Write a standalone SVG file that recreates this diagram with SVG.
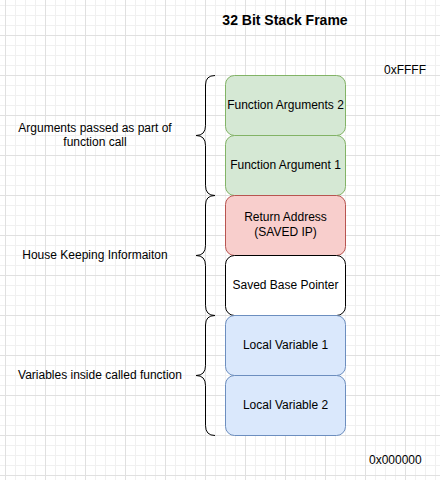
<svg xmlns="http://www.w3.org/2000/svg" width="440" height="480" viewBox="0 0 440 480">
  <defs>
    <pattern id="minor" patternUnits="userSpaceOnUse" x="5" y="5" width="10" height="10">
      <rect x="0" y="0" width="1" height="10" fill="#f0f0f0"/>
      <rect x="0" y="0" width="10" height="1" fill="#f0f0f0"/>
    </pattern>
    <pattern id="major" patternUnits="userSpaceOnUse" x="5" y="-5" width="40" height="40">
      <rect x="0" y="0" width="1" height="40" fill="#e0e0e0"/>
      <rect x="0" y="0" width="40" height="1" fill="#e0e0e0"/>
    </pattern>
    <style>
      text { font-family: "Liberation Sans", Arial, Helvetica, sans-serif; font-size: 12px; fill: #000000; }
      .c { text-anchor: middle; }
      .title { font-size: 14px; font-weight: bold; }
      .box { stroke-width: 1; }
      .green { fill: #d5e8d4; stroke: #82b366; }
      .red { fill: #f8cecc; stroke: #b85450; }
      .white { fill: #ffffff; stroke: #000000; }
      .blue { fill: #dae8fc; stroke: #6c8ebf; }
      .brace { fill: none; stroke: #000000; stroke-width: 1; }
    </style>
  </defs>
  <rect width="440" height="480" fill="#ffffff"/>
  <rect width="440" height="480" fill="url(#minor)"/>
  <rect width="440" height="480" fill="url(#major)"/>

  <g id="title"><text class="c title" x="285" y="25">32 Bit Stack Frame</text></g>
  <g id="addr-high"><text x="384" y="74">0xFFFF</text></g>
  <g id="addr-low"><text x="369" y="464">0x000000</text></g>

  <g id="func-arg-2">
    <rect class="box green" x="225.5" y="75.5" width="120" height="60" rx="9"/>
    <text class="c" x="285.5" y="109">Function Arguments 2</text>
  </g>
  <g id="func-arg-1">
    <rect class="box green" x="225.5" y="135.5" width="120" height="60" rx="9"/>
    <text class="c" x="285.5" y="169">Function Argument 1</text>
  </g>
  <g id="return-address">
    <rect class="box red" x="225.5" y="195.5" width="120" height="60" rx="9"/>
    <text class="c" x="285.5" y="221">Return Address</text>
    <text class="c" x="285.5" y="236">(SAVED IP)</text>
  </g>
  <g id="saved-base-pointer">
    <rect class="box white" x="225.5" y="255.5" width="120" height="60" rx="9"/>
    <text class="c" x="285.5" y="289">Saved Base Pointer</text>
  </g>
  <g id="local-var-1">
    <rect class="box blue" x="225.5" y="315.5" width="120" height="60" rx="9"/>
    <text class="c" x="285.5" y="349">Local Variable 1</text>
  </g>
  <g id="local-var-2">
    <rect class="box blue" x="225.5" y="375.5" width="120" height="60" rx="9"/>
    <text class="c" x="285.5" y="409">Local Variable 2</text>
  </g>

  <g id="brace-args">
    <path class="brace" d="M215 75.5 Q205.5 75.5 205.5 85 V125.5 Q205.5 135.5 196 135.5 Q205.5 135.5 205.5 145.5 V185.5 Q205.5 195.5 215 195.5"/>
    <text class="c" x="95" y="132">Arguments passed as part of</text>
    <text class="c" x="95" y="146">function call</text>
  </g>
  <g id="brace-housekeeping">
    <path class="brace" d="M215 195.5 Q205.5 195.5 205.5 205 V245.5 Q205.5 255.5 196 255.5 Q205.5 255.5 205.5 265.5 V305.5 Q205.5 315.5 215 315.5"/>
    <text class="c" x="95" y="259">House Keeping Informaiton</text>
  </g>
  <g id="brace-locals">
    <path class="brace" d="M215 315.5 Q205.5 315.5 205.5 325 V365.5 Q205.5 375.5 196 375.5 Q205.5 375.5 205.5 385.5 V425.5 Q205.5 435.5 215 435.5"/>
    <text class="c" x="100" y="379">Variables inside called function</text>
  </g>
  <g id="connectors"></g>
</svg>
